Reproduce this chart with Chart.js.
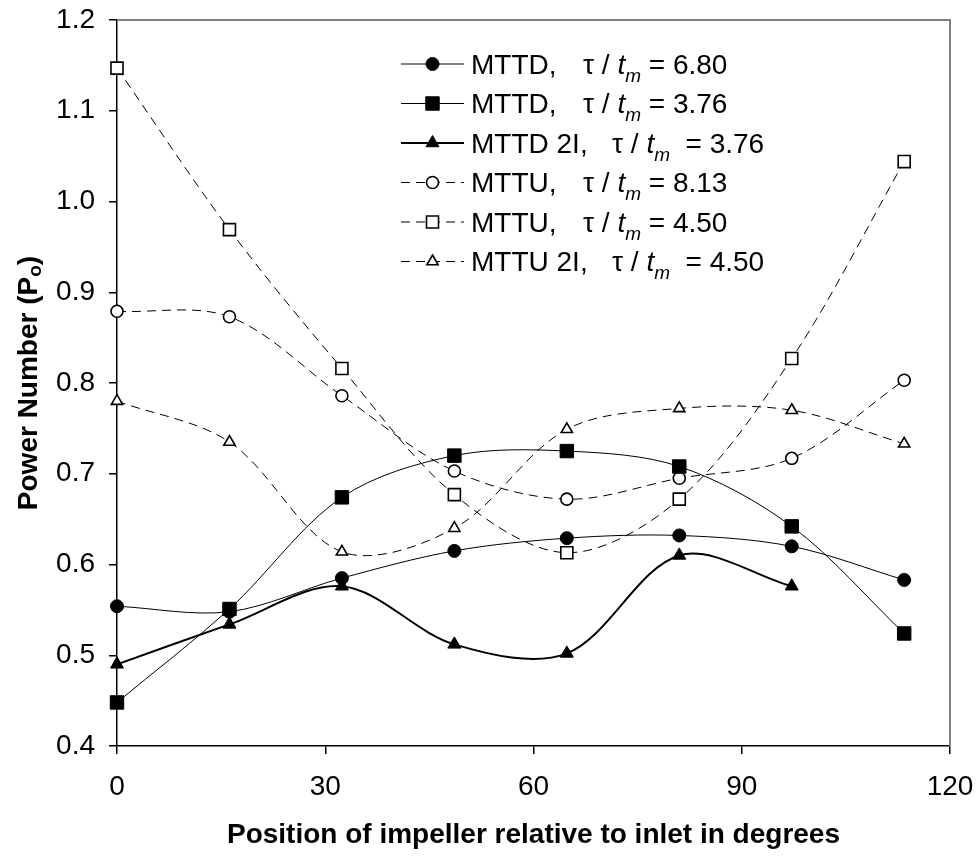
<!DOCTYPE html>
<html lang="en">
<head>
  <meta charset="UTF-8" />
  <title>Power Number vs impeller position</title>
  <script src="https://cdn.jsdelivr.net/npm/chart.js"></script>
  <style>
    body {
      margin: 0;
      background: #ffffff;
      overflow: hidden;
    }
    #chart {
      display: block;
    }
  </style>
</head>
<body>
  <canvas id="chart" width="980" height="856"></canvas>

  <script>
    // impeller positions (degrees)
    const positions = [0, 16.2, 32.4, 48.6, 64.8, 81.0, 97.2, 113.4];

    // power numbers
    const mttd680 = [0.554, 0.548, 0.585, 0.615, 0.629, 0.632, 0.620, 0.583];
    const mttd376 = [0.448, 0.551, 0.674, 0.720, 0.725, 0.708, 0.642, 0.524];
    const mttd2i376 = [0.490, 0.534, 0.576, 0.512, 0.502, 0.610, 0.576];
    const mttu813 = [0.879, 0.873, 0.786, 0.703, 0.672, 0.695, 0.717, 0.803];
    const mttu450 = [1.147, 0.969, 0.816, 0.677, 0.613, 0.672, 0.827, 1.044];
    const mttu2i450 = [0.780, 0.735, 0.614, 0.640, 0.749, 0.772, 0.770, 0.733];

    // legend text pieces
    const seriesNames = ['MTTD,', 'MTTD,', 'MTTD 2I,', 'MTTU,', 'MTTU,', 'MTTU 2I,'];
    const ratioValues = ['6.80', '3.76', '3.76', '8.13', '4.50', '4.50'];

    const xTicks = [0, 30, 60, 90, 120];
    const yTicks = [0.4, 0.5, 0.6, 0.7, 0.8, 0.9, 1.0, 1.1, 1.2];

    const FONT = 'Arial, "Liberation Sans", sans-serif';

    function pts(values) {
      return values.map((v, i) => ({ x: positions[i], y: v }));
    }

    function series(values, style, filled, radius, dashed, width) {
      return {
        data: pts(values),
        borderColor: '#000',
        borderWidth: width,
        borderDash: dashed ? [9, 6] : [],
        pointStyle: style,
        pointRadius: radius,
        pointBackgroundColor: filled ? '#000' : '#fff',
        pointBorderColor: '#000',
        pointBorderWidth: filled ? 1 : 1.6,
        tension: 0.33,
        fill: false,
        clip: false
      };
    }

    const datasets = [
      series(mttd680, 'circle', true, 6.5, false, 1),
      series(mttd376, 'rect', true, 9.5, false, 1),
      series(mttd2i376, 'triangle', true, 7.5, false, 2),
      series(mttu813, 'circle', false, 6, true, 1),
      series(mttu450, 'rect', false, 8.5, true, 1),
      series(mttu2i450, 'triangle', false, 6.5, true, 1)
    ];

    function marker(ctx, ds, x, y) {
      const r = ds.pointRadius;
      ctx.save();
      ctx.setLineDash([]);
      ctx.fillStyle = ds.pointBackgroundColor;
      ctx.strokeStyle = ds.pointBorderColor;
      ctx.lineWidth = ds.pointBorderWidth;
      ctx.beginPath();
      if (ds.pointStyle === 'circle') {
        ctx.arc(x, y, r, 0, Math.PI * 2);
      } else if (ds.pointStyle === 'rect') {
        const s = Math.SQRT1_2 * r;
        ctx.rect(x - s, y - s, 2 * s, 2 * s);
      } else {
        ctx.moveTo(x, y - r);
        ctx.lineTo(x + r * Math.sin(2 * Math.PI / 3), y - r * Math.cos(2 * Math.PI / 3));
        ctx.lineTo(x + r * Math.sin(4 * Math.PI / 3), y - r * Math.cos(4 * Math.PI / 3));
        ctx.closePath();
      }
      ctx.fill();
      ctx.stroke();
      ctx.restore();
    }

    const decorations = {
      id: 'decorations',
      beforeDatasetsDraw(chart) {
        // grey plot-area frame, top and right
        const ctx = chart.ctx;
        const a = chart.chartArea;
        ctx.save();
        ctx.strokeStyle = '#808080';
        ctx.lineWidth = 2;
        ctx.beginPath();
        ctx.moveTo(a.left, a.top);
        ctx.lineTo(a.right, a.top);
        ctx.lineTo(a.right, a.bottom);
        ctx.stroke();
        ctx.restore();
      },
      afterDraw(chart) {
        const ctx = chart.ctx;
        const a = chart.chartArea;
        ctx.save();
        ctx.fillStyle = '#000';
        ctx.textBaseline = 'alphabetic';

        // x title
        ctx.font = 'bold 28px ' + FONT;
        ctx.textAlign = 'center';
        ctx.fillText('Position of impeller relative to inlet in degrees', (a.left + a.right) / 2, 843);

        // y title with subscript
        ctx.textAlign = 'left';
        ctx.save();
        ctx.translate(37, (a.top + a.bottom) / 2);
        ctx.rotate(-Math.PI / 2);
        ctx.font = 'bold 28px ' + FONT;
        const w1 = ctx.measureText('Power Number (P').width;
        const w3 = ctx.measureText(')').width;
        ctx.font = 'bold 19px ' + FONT;
        const w2 = ctx.measureText('o').width;
        let x0 = -(w1 + w2 + w3) / 2;
        ctx.font = 'bold 28px ' + FONT;
        ctx.fillText('Power Number (P', x0, 0);
        ctx.font = 'bold 19px ' + FONT;
        ctx.fillText('o', x0 + w1, 4);
        ctx.font = 'bold 28px ' + FONT;
        ctx.fillText(')', x0 + w1 + w2, 0);
        ctx.restore();

        // legend
        chart.data.datasets.forEach((ds, i) => {
          const y = 64 + i * 39.5;
          ctx.save();
          ctx.strokeStyle = ds.borderColor;
          ctx.lineWidth = ds.borderWidth;
          ctx.setLineDash(ds.borderDash);
          ctx.beginPath();
          ctx.moveTo(401, y);
          ctx.lineTo(464, y);
          ctx.stroke();
          ctx.restore();
          marker(ctx, ds, 432.5, y);

          const base = y + 9.5;
          const twoI = seriesNames[i].indexOf('2I') >= 0;
          ctx.font = '28px ' + FONT;
          ctx.fillText(seriesNames[i], 471, base);
          let x = twoI ? 612 : 583;
          const p1 = '\u03C4 / ';
          ctx.fillText(p1, x, base);
          x += ctx.measureText(p1).width;
          ctx.font = 'italic 28px ' + FONT;
          ctx.fillText('t', x, base);
          x += ctx.measureText('t').width;
          ctx.font = 'italic 19px ' + FONT;
          ctx.fillText('m', x, base + 8);
          x += ctx.measureText('m').width;
          ctx.font = '28px ' + FONT;
          const p3 = (twoI ? '  = ' : ' = ') + ratioValues[i];
          ctx.fillText(p3, x, base);
        });
        ctx.restore();
      }
    };

    Chart.defaults.font.family = FONT;
    Chart.defaults.color = '#000';

    new Chart(document.getElementById('chart').getContext('2d'), {
      type: 'line',
      data: { datasets: datasets },
      plugins: [decorations],
      options: {
        responsive: false,
        animation: false,
        layout: { padding: { left: 0, top: 20, right: 30, bottom: 0 } },
        plugins: {
          legend: { display: false },
          tooltip: { enabled: false }
        },
        scales: {
          x: {
            type: 'linear',
            min: 0,
            max: 120,
            afterBuildTicks: s => { s.ticks = xTicks.map(v => ({ value: v })); },
            afterFit: s => { s.height = 110; s.paddingLeft = 0; s.paddingRight = 0; },
            ticks: { font: { size: 28 }, padding: 16, maxRotation: 0 },
            grid: { display: true, drawOnChartArea: false, tickLength: 8, color: '#000', lineWidth: 1.5 },
            border: { display: true, color: '#000', width: 1.5 }
          },
          y: {
            type: 'linear',
            min: 0.4,
            max: 1.2,
            afterBuildTicks: s => { s.ticks = yTicks.map(v => ({ value: v })); },
            afterFit: s => { s.width = 117; s.paddingTop = 0; s.paddingBottom = 0; },
            ticks: { font: { size: 28 }, padding: 14, callback: v => Number(v).toFixed(1) },
            grid: { display: true, drawOnChartArea: false, tickLength: 8, color: '#000', lineWidth: 1.5 },
            border: { display: true, color: '#000', width: 1.5 }
          }
        }
      }
    });
  </script>
</body>
</html>
